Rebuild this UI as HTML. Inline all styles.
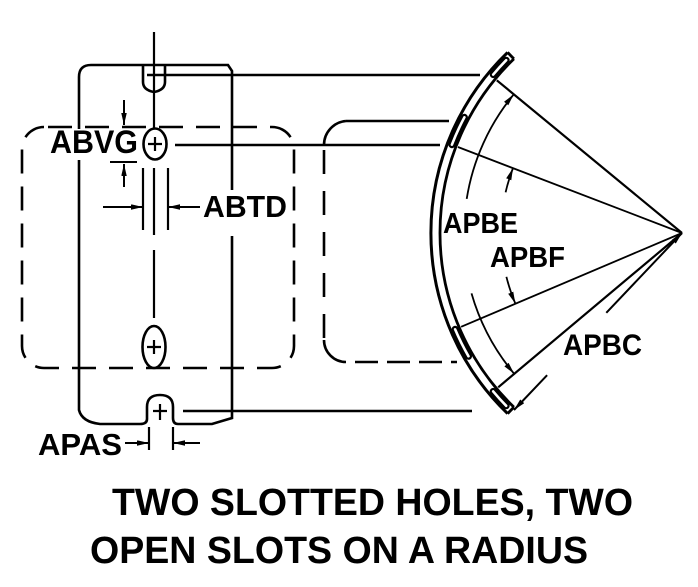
<!DOCTYPE html>
<html>
<head>
<meta charset="utf-8">
<style>
  html, body { margin: 0; padding: 0; background: #fff; }
  svg { display: block; }
  text { font-family: "Liberation Sans", Arial, sans-serif; font-weight: bold; fill: #000; }
</style>
</head>
<body>
<svg width="698" height="587" viewBox="0 0 698 587" xmlns="http://www.w3.org/2000/svg">
  <defs>
    <marker id="ar" markerUnits="userSpaceOnUse" markerWidth="13" markerHeight="6" refX="12" refY="2.75" orient="auto">
      <path d="M0,0 L12,2.75 L0,5.5 z" fill="#000"/>
    </marker>
  </defs>
  <rect width="698" height="587" fill="#fff"/>

  <g fill="none" stroke="#000" stroke-width="2.6">
    <!-- left dashed rect -->
    <rect x="22" y="127" width="272" height="241" rx="22" ry="22" stroke-dasharray="24 13" stroke-dashoffset="-4"/>
    <!-- right dashed rect (partial) -->
    <path d="M346,121 L449,121"/>
    <path d="M324,145 A24,24 0 0 1 346,121"/>
    <path d="M324,150 L324,340" stroke-dasharray="24 17"/>
    <path d="M324,340 A22,22 0 0 0 346,362"/>
    <path d="M355,362 L457,362" stroke-dasharray="23 9"/>

    <!-- plate outline -->
    <path d="M79,410 L79,77 Q79,65 91,65 L228,65 L232,71 L232,418 L212,424 L178,424 Q173,424 173,418 L173,407 Q173,395 160,395 Q147,395 147,407 L147,419 Q147,424 140,424 L100,424 Q82,422 79,410 Z" fill="none"/>
    <!-- top slot -->
    <path d="M143,66 L143,82 Q143,90 154,92 Q165,90 165,82 L165,66"/>

    <!-- horizontal projection lines -->
    <path d="M147,75 L480,75"/>
    <path d="M175,145 L440,145"/>
    <path d="M183,411 L472,411"/>
  </g>

  <!-- centerline -->
  <g stroke="#000" stroke-width="2.2" fill="none">
    <path d="M154,32 L154,128"/>
    <path d="M154,168 L154,235"/>
    <path d="M154,250 L154,318"/>
    <!-- ABTD extension lines -->
    <path d="M143,168 L143,230"/>
    <path d="M168,168 L168,230"/>
    <!-- bottom slot plus -->
    <path d="M153,411 L167,411 M160,404 L160,420"/>
    <!-- APAS extension lines -->
    <path d="M149,427 L149,450"/>
    <path d="M173,427 L173,450"/>
  </g>

  <!-- label backgrounds -->
  <rect x="46" y="129" width="95" height="31" fill="#fff"/>
  <rect x="201" y="190" width="89" height="46" fill="#fff"/>

  <!-- holes -->
  <g stroke="#000" stroke-width="2.6" fill="#fff">
    <ellipse cx="155" cy="144" rx="11.5" ry="15.5"/>
    <ellipse cx="154" cy="347" rx="11.5" ry="21"/>
  </g>
  <g stroke="#000" stroke-width="2.2" fill="none">
    <path d="M148,144 L162,144 M155,137 L155,151"/>
    <path d="M147,347 L161,347 M154,340 L154,354"/>
  </g>

  <!-- dimension arrows left -->
  <g stroke="#000" stroke-width="2" fill="none">
    <path d="M124,100 L124,125" marker-end="url(#ar)"/>
    <path d="M110,162 L137,162"/>
    <path d="M124,187 L124,164" marker-end="url(#ar)"/>
    <path d="M103,207 L143,207" marker-end="url(#ar)"/>
    <path d="M200,207 L168,207" marker-end="url(#ar)"/>
    <path d="M125,443 L149,443" marker-end="url(#ar)"/>
    <path d="M200,443 L173,443" marker-end="url(#ar)"/>
  </g>

  <!-- arc band -->
  <g fill="none" stroke="#000">
    <path d="M507.6,52.4 A251,251 0 0 0 507.6,413.6" stroke-width="3"/>
    <path d="M513.9,58.9 A242,242 0 0 0 513.9,407.1" stroke-width="2.8"/>
    <path d="M507.6,52.4 L513.9,58.9 M507.6,413.6 L513.9,407.1" stroke-width="2.8"/>
    <!-- slots -->
    <g stroke-width="7" stroke-linecap="round">
      <path d="M506.2,60.2 A246.5,246.5 0 0 0 493.2,74.6"/>
      <path d="M464.4,117.3 A246.5,246.5 0 0 0 451.9,144.7"/>
      <path d="M455.1,329.3 A246.5,246.5 0 0 0 468.5,356.3"/>
      <path d="M493.2,391.4 A246.5,246.5 0 0 0 506.2,405.8"/>
    </g>
    <g stroke-width="2.6" stroke-linecap="round" stroke="#fff">
      <path d="M506.2,60.2 A246.5,246.5 0 0 0 493.2,74.6"/>
      <path d="M464.4,117.3 A246.5,246.5 0 0 0 451.9,144.7"/>
      <path d="M455.1,329.3 A246.5,246.5 0 0 0 468.5,356.3"/>
      <path d="M493.2,391.4 A246.5,246.5 0 0 0 506.2,405.8"/>
    </g>
  </g>

  <!-- radial lines -->
  <g stroke="#000" fill="none">
    <path d="M682,233 L496.8,80.3" stroke-width="2.2"/>
    <path d="M682,233 L457.9,147.0" stroke-width="1.8"/>
    <path d="M682,233 L461.1,326.8" stroke-width="1.8"/>
    <path d="M682,233 L498.2,387.3" stroke-width="2.2"/>
    <!-- APBC -->
    <path d="M606.3,312.8 L682,233" stroke-width="2" marker-end="url(#ar)"/>
    <path d="M547.1,375.2 L514,410" stroke-width="2" marker-end="url(#ar)"/>
  </g>

  <!-- angle dimension arcs -->
  <g stroke="#000" stroke-width="1.8" fill="none">
    <path d="M466.7,198.9 A218,218 0 0 1 513.8,94.3" marker-end="url(#ar)"/>
    <path d="M471.5,293.4 A219,219 0 0 0 514.2,373.8" marker-end="url(#ar)"/>
    <path d="M505.6,192.3 A181,181 0 0 1 513.0,168.1" marker-end="url(#ar)"/>
    <path d="M506.4,276.8 A181,181 0 0 0 515.4,303.7" marker-end="url(#ar)"/>
  </g>

  <!-- labels -->
  <text x="50" y="153" font-size="32" textLength="88" lengthAdjust="spacingAndGlyphs">ABVG</text>
  <text x="203" y="217" font-size="31" textLength="84" lengthAdjust="spacingAndGlyphs">ABTD</text>
  <text x="38" y="455" font-size="31" textLength="84" lengthAdjust="spacingAndGlyphs">APAS</text>
  <text x="443" y="233" font-size="29" textLength="75" lengthAdjust="spacingAndGlyphs">APBE</text>
  <text x="490" y="267" font-size="29" textLength="75" lengthAdjust="spacingAndGlyphs">APBF</text>
  <text x="563" y="355" font-size="30" textLength="79" lengthAdjust="spacingAndGlyphs">APBC</text>

  <text x="112" y="515" font-size="38" textLength="521" lengthAdjust="spacingAndGlyphs">TWO SLOTTED HOLES, TWO</text>
  <text x="90" y="563" font-size="38" textLength="498" lengthAdjust="spacingAndGlyphs">OPEN SLOTS ON A RADIUS</text>
</svg>
</body>
</html>
